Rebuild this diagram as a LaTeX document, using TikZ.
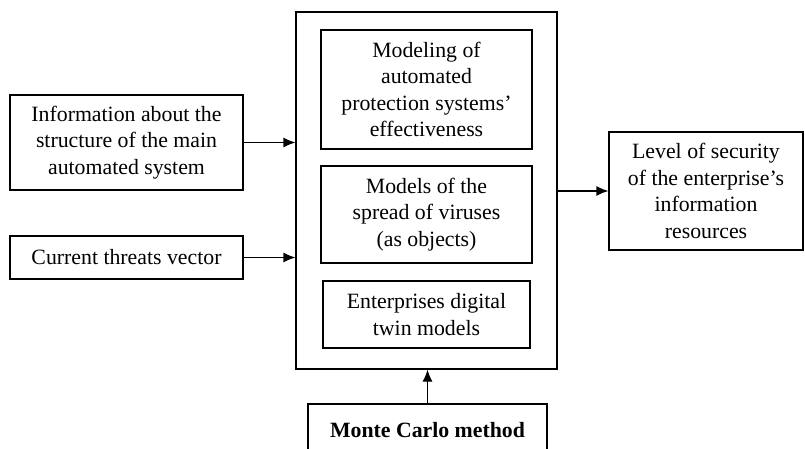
\documentclass[tikz,border=0pt]{standalone}
\usepackage{fontspec}
\setmainfont{Liberation Serif}
\usetikzlibrary{arrows.meta}
\begin{document}
\begin{tikzpicture}[x=1pt,y=-1pt,
  box/.style={draw, line width=1.2pt, inner sep=0pt, align=center,
    font=\fontsize{21.8}{26.6}\selectfont},
  link/.style={line width=1.2pt, -{Latex[length=12pt,width=10pt]}}]
\useasboundingbox (0,0) rectangle (805,449);
\clip (0,0) rectangle (805,449);

% inputs on the left
\node[box, minimum width=233pt, minimum height=95pt] (info) at (126.5,142.5)
  {Information about the\\structure of the main\\automated system};
\node[box, minimum width=233pt, minimum height=43pt] (threats) at (126.5,257.5)
  {Current threats vector};

% central modelling block
\node[box, minimum width=261pt, minimum height=357pt] (core) at (426.5,190.5) {};
\node[box, minimum width=211pt, minimum height=119pt] (protect) at (426.5,89.5)
  {Modeling of\\automated\\protection systems’\\effectiveness};
\node[box, minimum width=211pt, minimum height=97pt] (virus) at (426.5,214.5)
  {Models of the\\spread of viruses\\(as objects)};
\node[box, minimum width=207pt, minimum height=67pt] (twin) at (426.5,314.5)
  {Enterprises digital\\twin models};

% method feeding the block from below
\node[box, minimum width=239pt, minimum height=60pt] (mc) at (427.5,434)
  {\raisebox{9pt}{\bfseries Monte Carlo method}};

% output on the right
\node[box, minimum width=194pt, minimum height=118pt] (level) at (706,191)
  {Level of security\\of the enterprise’s\\information\\resources};

% connectors
\draw[link] (info.east) -- (info.east -| core.west);
\draw[link] (threats.east) -- (threats.east -| core.west);
\draw[link] (core.east |- level.west) -- (level.west);
\draw[link] (mc.north) -- (core.south -| mc.north);
\end{tikzpicture}
\end{document}
